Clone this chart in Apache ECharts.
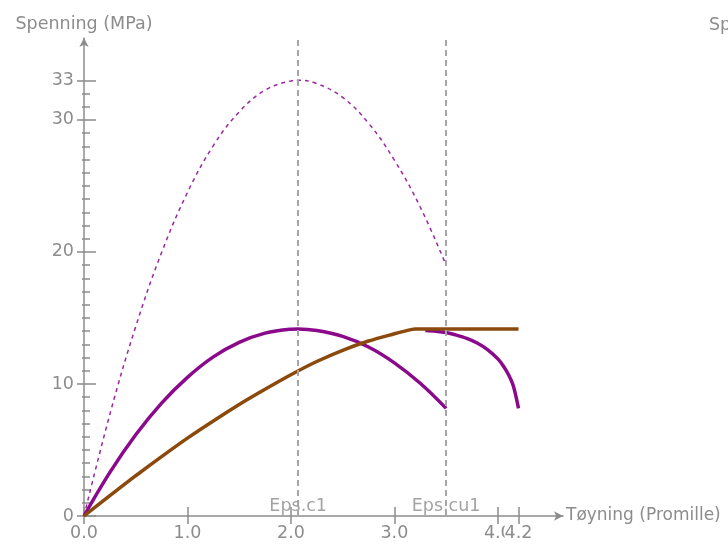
<!DOCTYPE html>
<html>
<head>
<meta charset="utf-8">
<title>Spenning - tøyning</title>
<script src="https://cdn.jsdelivr.net/npm/echarts@6/dist/echarts.min.js"></script>
<style>
  html, body { margin: 0; padding: 0; background: #fff; }
  #chart { width: 728px; height: 546px; }
</style>
</head>
<body>
<div id="chart"></div>
<script>
// strain in promille, stress in MPa
const strain = [0, 0.25, 0.5, 0.75, 1.0, 1.25, 1.5, 1.75, 2.0, 2.07, 2.25, 2.5, 2.75, 3.0, 3.25, 3.5];
const meanStress = [0, 7.7, 14.35, 19.95, 24.5, 28.05, 30.6, 32.25, 32.95, 33.0, 32.75, 31.7, 29.75, 26.95, 23.4, 19.0];
const designStress = [0, 3.3, 6.15, 8.55, 10.5, 12.05, 13.15, 13.85, 14.15, 14.17, 14.05, 13.6, 12.8, 11.6, 10.05, 8.15];

const parabolaStrain = [0, 0.25, 0.5, 0.75, 1.0, 1.25, 1.5, 1.75, 2.0, 2.25, 2.5, 2.75, 3.0, 3.1, 3.2, 3.5, 4.2];
const parabolaStress = [0, 1.55, 3.05, 4.5, 5.9, 7.2, 8.45, 9.6, 10.7, 11.7, 12.55, 13.25, 13.8, 14.0, 14.17, 14.17, 14.17];

const tailStrain = [3.3, 3.4, 3.5, 3.6, 3.7, 3.8, 3.9, 4.0, 4.05, 4.1, 4.15, 4.2];
const tailStress = [14.05, 14.0, 13.9, 13.7, 13.45, 13.1, 12.6, 11.9, 11.4, 10.75, 9.85, 8.15];

const epsC1 = 2.07;
const epsCu1 = 3.5;

const xTicks = [0, 1, 2, 3, 4, 4.2];
const xLabels = [0, 1, 2, 3, 4];
const xLabelsLast = [4.2];
const yMajor = [0, 10, 20, 30, 33];
const yMinor = [];
for (let i = 0; i <= 33; i++) yMinor.push(i);

const grey = '#8c8c8c';
const font = 'DejaVu Sans';
const fs = 17.5;

function pairs(xs, ys) {
  return xs.map((x, i) => [x, ys[i]]);
}

const chart = echarts.init(document.getElementById('chart'));

function yAx(ticks, inside, len, extra) {
  return Object.assign({
    type: 'value',
    position: 'left',
    min: 0,
    max: 36.2,
    axisLine: { show: false },
    axisTick: { show: true, inside: inside, length: len, customValues: ticks, lineStyle: { color: grey, width: 1.5 } },
    axisLabel: { show: false },
    splitLine: { show: false }
  }, extra || {});
}

const xLabelStyle = {
  formatter: v => v.toFixed(1),
  hideOverlap: false,
  color: grey, fontFamily: font, fontSize: fs, margin: 8,
  backgroundColor: '#fff'
};

chart.setOption({
  animation: false,
  backgroundColor: '#fff',
  grid: { left: 84, top: 38, width: 479, height: 478, containLabel: false },
  graphic: [{
    type: 'text',
    left: 709,
    top: 16,
    style: { text: 'Spenning (MPa)', fill: grey, font: fs + 'px "' + font + '"' }
  }],
  xAxis: [{
    type: 'value',
    position: 'bottom',
    min: 0,
    max: 4.63,
    name: 'Tøyning (Promille)',
    nameLocation: 'end',
    nameGap: 3,
    nameTextStyle: { color: grey, fontFamily: font, fontSize: 17, align: 'left', verticalAlign: 'middle' },
    axisLine: { show: true, symbol: ['none', 'arrow'], symbolSize: [7, 9], lineStyle: { color: grey, width: 1.5 } },
    axisTick: { show: true, inside: true, length: 9, customValues: xTicks, lineStyle: { color: grey, width: 1.5 } },
    axisLabel: Object.assign({ customValues: xLabels }, xLabelStyle),
    splitLine: { show: false }
  }, {
    type: 'value',
    position: 'bottom',
    min: 0,
    max: 4.63,
    axisLine: { show: false },
    axisTick: { show: true, inside: false, length: 9, customValues: xTicks, lineStyle: { color: grey, width: 1.5 } },
    axisLabel: Object.assign({ customValues: xLabelsLast }, xLabelStyle),
    splitLine: { show: false }
  }],
  yAxis: [
    yAx(yMajor, true, 12, {
      name: 'Spenning (MPa)',
      nameLocation: 'end',
      nameGap: 5,
      nameTextStyle: { color: grey, fontFamily: font, fontSize: fs },
      axisLine: { show: true, symbol: ['none', 'arrow'], symbolSize: [7, 9], lineStyle: { color: grey, width: 1.5 } },
      axisLabel: { show: true, customValues: yMajor, hideOverlap: false, color: grey, fontFamily: font, fontSize: fs, margin: 10 }
    }),
    yAx(yMajor, false, 7),
    yAx(yMinor, true, 6),
    yAx(yMinor, false, 2)
  ],
  series: [{
    name: 'fcm',
    type: 'line',
    data: pairs(strain, meanStress),
    smooth: 0.4,
    showSymbol: false,
    lineStyle: { color: '#9b28a0', width: 1.5, type: [4, 4] },
    markLine: {
      silent: true,
      symbol: 'none',
      label: { show: false },
      lineStyle: { color: '#a6a6a6', width: 2, type: [6, 4] },
      data: [{ xAxis: epsC1 }, { xAxis: epsCu1 }]
    }
  }, {
    name: 'fcd',
    type: 'line',
    data: pairs(strain, designStress),
    smooth: 0.4,
    showSymbol: false,
    lineStyle: { color: '#8b0a8b', width: 3.5 }
  }, {
    name: 'fcd hale',
    type: 'line',
    data: pairs(tailStrain, tailStress),
    smooth: 0.3,
    showSymbol: false,
    lineStyle: { color: '#8b0a8b', width: 3.5 }
  }, {
    name: 'parabel',
    type: 'line',
    data: pairs(parabolaStrain, parabolaStress),
    smooth: 0.3,
    showSymbol: false,
    lineStyle: { color: '#8b4a0c', width: 3.5 }
  }, {
    name: 'eps',
    type: 'scatter',
    symbolSize: 0,
    silent: true,
    data: [[epsC1, 0.75, 'Eps.c1'], [epsCu1, 0.75, 'Eps.cu1']],
    label: {
      show: true,
      position: 'inside',
      formatter: p => p.data[2],
      color: grey,
      fontFamily: font,
      fontSize: fs
    }
  }]
});
</script>
</body>
</html>
